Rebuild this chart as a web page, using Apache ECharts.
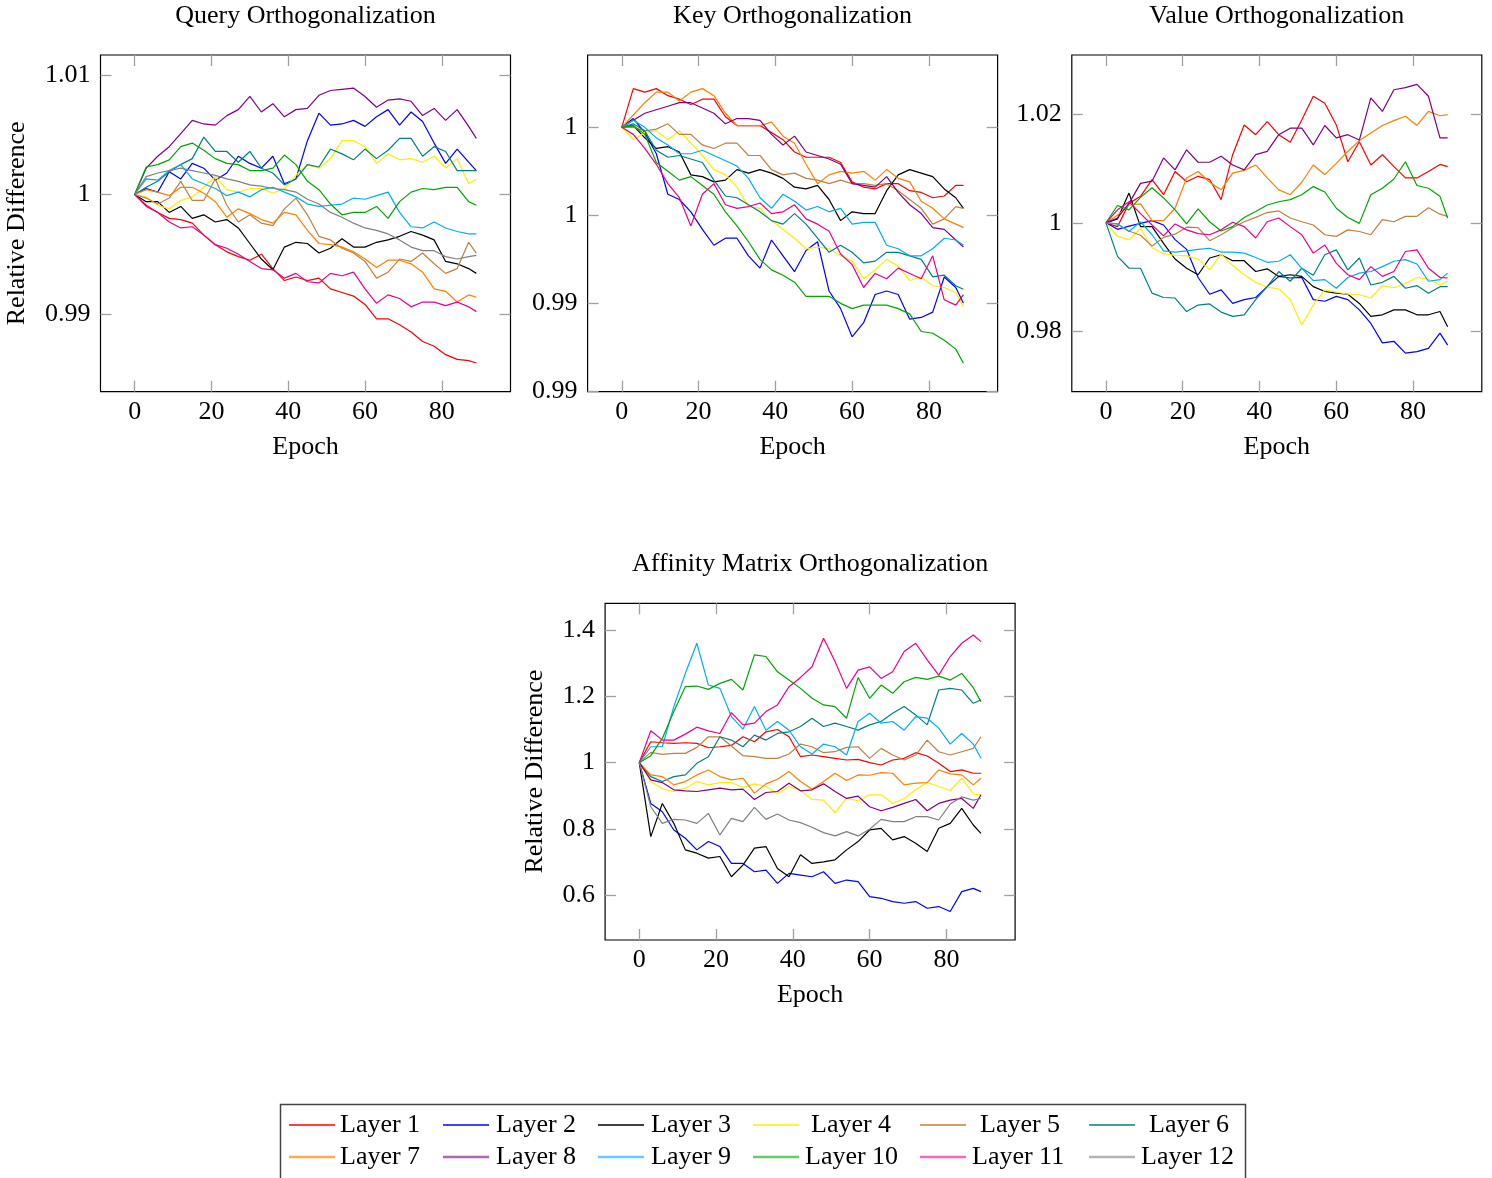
<!DOCTYPE html>
<html>
<head>
<meta charset="utf-8">
<script src="https://cdn.jsdelivr.net/npm/echarts@6/dist/echarts.min.js"></script>
<style>
html, body { margin: 0; background: #fff; }
#chart { width: 1492px; height: 1178px; }
</style>
</head>
<body>
<div id="chart"></div>
<script>
// sampled epochs (every 3rd epoch, plus the last one)
const epochs = [0, 3, 6, 9, 12, 15, 18, 21, 24, 27, 30, 33, 36, 39, 42, 45, 48, 51, 54, 57, 60, 63, 66, 69, 72, 75, 78, 81, 84, 87, 89]
const layerNames = ['Layer 1', 'Layer 2', 'Layer 3', 'Layer 4', 'Layer 5', 'Layer 6', 'Layer 7', 'Layer 8', 'Layer 9', 'Layer 10', 'Layer 11', 'Layer 12']
const xTicks = [0, 20, 40, 60, 80]

// Query orthogonalization
const query1 = [1.0000, 0.9991, 0.9985, 0.9980, 0.9979, 0.9976, 0.9966, 0.9958, 0.9952, 0.9948, 0.9945, 0.9950, 0.9938, 0.9928, 0.9931, 0.9928, 0.9930, 0.9921, 0.9918, 0.9915, 0.9908, 0.9896, 0.9896, 0.9891, 0.9885, 0.9877, 0.9873, 0.9866, 0.9862, 0.9861, 0.9859]
const query2 = [1.0000, 1.0005, 1.0002, 1.0019, 1.0013, 1.0026, 1.0022, 1.0012, 1.0018, 1.0032, 1.0026, 1.0022, 1.0032, 1.0009, 1.0013, 1.0045, 1.0068, 1.0058, 1.0059, 1.0062, 1.0057, 1.0065, 1.0071, 1.0058, 1.0069, 1.0061, 1.0043, 1.0026, 1.0038, 1.0027, 1.0020]
const query3 = [1.0000, 0.9994, 0.9994, 0.9985, 0.9990, 0.9980, 0.9983, 0.9977, 0.9979, 0.9972, 0.9959, 0.9946, 0.9937, 0.9956, 0.9960, 0.9959, 0.9951, 0.9955, 0.9963, 0.9956, 0.9956, 0.9960, 0.9962, 0.9965, 0.9969, 0.9966, 0.9962, 0.9944, 0.9942, 0.9938, 0.9934]
const query4 = [1.0000, 0.9998, 0.9991, 0.9988, 0.9995, 0.9998, 1.0006, 1.0015, 1.0004, 1.0002, 1.0005, 1.0005, 1.0001, 1.0005, 1.0016, 1.0025, 1.0022, 1.0030, 1.0045, 1.0045, 1.0040, 1.0026, 1.0034, 1.0029, 1.0030, 1.0027, 1.0032, 1.0022, 1.0030, 1.0009, 1.0013]
const query5 = [1.0000, 0.9997, 0.9992, 0.9997, 1.0011, 0.9995, 0.9995, 1.0013, 0.9991, 0.9977, 0.9983, 0.9976, 0.9974, 0.9988, 0.9997, 0.9983, 0.9965, 0.9962, 0.9955, 0.9951, 0.9944, 0.9930, 0.9935, 0.9946, 0.9944, 0.9951, 0.9942, 0.9934, 0.9938, 0.9960, 0.9951]
const query6 = [1.0000, 1.0006, 1.0011, 1.0019, 1.0025, 1.0030, 1.0048, 1.0036, 1.0036, 1.0027, 1.0036, 1.0022, 1.0018, 1.0008, 1.0013, 1.0025, 1.0023, 1.0038, 1.0034, 1.0029, 1.0038, 1.0030, 1.0037, 1.0047, 1.0047, 1.0032, 1.0040, 1.0036, 1.0020, 1.0020, 1.0020]
const query7 = [1.0000, 1.0004, 1.0002, 0.9999, 1.0006, 1.0006, 1.0001, 0.9994, 0.9981, 0.9988, 0.9984, 0.9979, 0.9976, 0.9985, 0.9983, 0.9970, 0.9959, 0.9958, 0.9956, 0.9952, 0.9946, 0.9939, 0.9945, 0.9945, 0.9942, 0.9935, 0.9921, 0.9919, 0.9910, 0.9916, 0.9914]
const query8 = [1.0000, 1.0022, 1.0032, 1.0040, 1.0051, 1.0062, 1.0059, 1.0058, 1.0066, 1.0071, 1.0082, 1.0069, 1.0076, 1.0065, 1.0071, 1.0072, 1.0083, 1.0087, 1.0088, 1.0089, 1.0082, 1.0073, 1.0079, 1.0080, 1.0078, 1.0066, 1.0072, 1.0062, 1.0071, 1.0057, 1.0047]
const query9 = [1.0000, 1.0013, 1.0012, 1.0020, 1.0025, 1.0013, 1.0009, 1.0005, 0.9999, 1.0002, 0.9998, 1.0004, 1.0006, 1.0002, 0.9998, 0.9992, 0.9990, 0.9991, 0.9992, 0.9997, 0.9996, 0.9999, 1.0002, 0.9985, 0.9973, 0.9972, 0.9977, 0.9972, 0.9969, 0.9967, 0.9967]
const query10 = [1.0000, 1.0023, 1.0025, 1.0029, 1.0040, 1.0043, 1.0037, 1.0030, 1.0026, 1.0025, 1.0020, 1.0020, 1.0022, 1.0033, 1.0025, 1.0011, 1.0004, 0.9992, 0.9983, 0.9985, 0.9985, 0.9990, 0.9980, 0.9994, 1.0002, 1.0005, 1.0004, 1.0006, 1.0006, 0.9994, 0.9991]
const query11 = [1.0000, 0.9990, 0.9985, 0.9977, 0.9972, 0.9973, 0.9966, 0.9958, 0.9955, 0.9950, 0.9944, 0.9938, 0.9937, 0.9930, 0.9934, 0.9927, 0.9926, 0.9934, 0.9932, 0.9935, 0.9921, 0.9909, 0.9916, 0.9913, 0.9906, 0.9910, 0.9910, 0.9907, 0.9910, 0.9906, 0.9902]
const query12 = [1.0000, 1.0015, 1.0018, 1.0020, 1.0022, 1.0020, 1.0018, 1.0016, 1.0013, 1.0011, 1.0008, 1.0007, 1.0005, 1.0004, 1.0002, 0.9996, 0.9992, 0.9985, 0.9981, 0.9976, 0.9972, 0.9970, 0.9967, 0.9962, 0.9956, 0.9953, 0.9953, 0.9948, 0.9946, 0.9948, 0.9949]

// Key orthogonalization
const key1 = [1.0000, 1.0022, 1.0020, 1.0022, 1.0018, 1.0016, 1.0013, 1.0016, 1.0016, 1.0006, 1.0001, 1.0001, 1.0001, 0.9997, 0.9993, 0.9986, 0.9983, 0.9983, 0.9983, 0.9980, 0.9969, 0.9966, 0.9965, 0.9968, 0.9968, 0.9964, 0.9963, 0.9960, 0.9961, 0.9967, 0.9967]
const key2 = [1.0000, 1.0005, 0.9997, 0.9985, 0.9962, 0.9959, 0.9952, 0.9942, 0.9933, 0.9937, 0.9937, 0.9927, 0.9920, 0.9936, 0.9927, 0.9918, 0.9930, 0.9935, 0.9907, 0.9897, 0.9881, 0.9889, 0.9905, 0.9907, 0.9905, 0.9891, 0.9892, 0.9895, 0.9915, 0.9909, 0.9900]
const key3 = [1.0000, 1.0001, 0.9994, 0.9988, 0.9989, 0.9986, 0.9973, 0.9972, 0.9969, 0.9970, 0.9976, 0.9974, 0.9976, 0.9974, 0.9971, 0.9966, 0.9965, 0.9967, 0.9959, 0.9947, 0.9952, 0.9951, 0.9951, 0.9964, 0.9973, 0.9976, 0.9974, 0.9972, 0.9965, 0.9960, 0.9954]
const key4 = [1.0000, 0.9993, 0.9997, 0.9998, 0.9993, 0.9998, 0.9991, 0.9984, 0.9976, 0.9973, 0.9966, 0.9955, 0.9954, 0.9947, 0.9942, 0.9937, 0.9931, 0.9932, 0.9931, 0.9927, 0.9924, 0.9914, 0.9919, 0.9925, 0.9921, 0.9913, 0.9915, 0.9910, 0.9909, 0.9906, 0.9898]
const key5 = [1.0000, 1.0000, 0.9998, 0.9999, 1.0002, 0.9996, 0.9996, 0.9990, 0.9988, 0.9991, 0.9991, 0.9984, 0.9984, 0.9976, 0.9973, 0.9974, 0.9971, 0.9970, 0.9968, 0.9970, 0.9968, 0.9968, 0.9967, 0.9968, 0.9964, 0.9959, 0.9954, 0.9945, 0.9948, 0.9955, 0.9954]
const key6 = [1.0000, 1.0002, 0.9998, 0.9987, 0.9983, 0.9984, 0.9982, 0.9980, 0.9970, 0.9961, 0.9960, 0.9956, 0.9952, 0.9947, 0.9945, 0.9951, 0.9945, 0.9937, 0.9929, 0.9933, 0.9929, 0.9923, 0.9924, 0.9929, 0.9929, 0.9927, 0.9925, 0.9915, 0.9916, 0.9910, 0.9908]
const key7 = [1.0000, 1.0007, 1.0014, 1.0020, 1.0020, 1.0015, 1.0020, 1.0022, 1.0018, 1.0008, 1.0001, 1.0001, 1.0001, 1.0003, 0.9995, 0.9991, 0.9979, 0.9968, 0.9973, 0.9975, 0.9974, 0.9975, 0.9970, 0.9976, 0.9971, 0.9969, 0.9958, 0.9954, 0.9948, 0.9945, 0.9943]
const key8 = [1.0000, 1.0004, 1.0008, 1.0010, 1.0012, 1.0014, 1.0014, 1.0011, 1.0008, 1.0002, 1.0005, 1.0005, 1.0004, 0.9996, 0.9990, 0.9995, 0.9986, 0.9984, 0.9982, 0.9979, 0.9968, 0.9967, 0.9966, 0.9972, 0.9963, 0.9956, 0.9951, 0.9943, 0.9942, 0.9936, 0.9932]
const key9 = [1.0000, 1.0004, 1.0000, 0.9994, 0.9990, 0.9985, 0.9985, 0.9987, 0.9984, 0.9981, 0.9978, 0.9971, 0.9960, 0.9954, 0.9962, 0.9958, 0.9953, 0.9955, 0.9952, 0.9954, 0.9945, 0.9946, 0.9946, 0.9933, 0.9931, 0.9927, 0.9927, 0.9931, 0.9937, 0.9936, 0.9933]
const key10 = [1.0000, 1.0001, 0.9996, 0.9980, 0.9975, 0.9970, 0.9972, 0.9967, 0.9962, 0.9952, 0.9944, 0.9935, 0.9925, 0.9919, 0.9916, 0.9912, 0.9904, 0.9904, 0.9904, 0.9900, 0.9897, 0.9899, 0.9899, 0.9899, 0.9897, 0.9894, 0.9884, 0.9883, 0.9879, 0.9874, 0.9866]
const key11 = [1.0000, 0.9996, 0.9988, 0.9979, 0.9968, 0.9960, 0.9944, 0.9962, 0.9968, 0.9956, 0.9954, 0.9955, 0.9957, 0.9951, 0.9952, 0.9956, 0.9948, 0.9945, 0.9941, 0.9928, 0.9922, 0.9909, 0.9917, 0.9914, 0.9920, 0.9917, 0.9914, 0.9927, 0.9902, 0.9899, 0.9905]
const key12 = []

// Value orthogonalization
const value1 = [1.0000, 0.9993, 1.0036, 1.0049, 1.0080, 1.0052, 1.0095, 1.0076, 1.0086, 1.0080, 1.0043, 1.0126, 1.0181, 1.0163, 1.0187, 1.0163, 1.0149, 1.0190, 1.0234, 1.0221, 1.0181, 1.0113, 1.0150, 1.0107, 1.0126, 1.0104, 1.0083, 1.0083, 1.0095, 1.0108, 1.0104]
const value2 = [1.0000, 0.9988, 0.9994, 0.9999, 1.0004, 0.9996, 0.9969, 0.9951, 0.9899, 0.9868, 0.9876, 0.9851, 0.9858, 0.9862, 0.9882, 0.9901, 0.9898, 0.9899, 0.9858, 0.9855, 0.9864, 0.9858, 0.9839, 0.9814, 0.9778, 0.9781, 0.9759, 0.9762, 0.9768, 0.9796, 0.9774]
const value3 = [1.0000, 1.0007, 1.0055, 0.9993, 0.9993, 0.9962, 0.9933, 0.9916, 0.9904, 0.9935, 0.9941, 0.9930, 0.9930, 0.9910, 0.9915, 0.9901, 0.9904, 0.9901, 0.9882, 0.9873, 0.9870, 0.9868, 0.9851, 0.9827, 0.9830, 0.9839, 0.9839, 0.9830, 0.9830, 0.9836, 0.9808]
const value4 = [1.0000, 0.9975, 0.9969, 0.9990, 0.9954, 0.9943, 0.9940, 0.9939, 0.9933, 0.9913, 0.9942, 0.9921, 0.9904, 0.9890, 0.9881, 0.9878, 0.9858, 0.9811, 0.9848, 0.9876, 0.9872, 0.9868, 0.9867, 0.9861, 0.9884, 0.9880, 0.9888, 0.9899, 0.9896, 0.9885, 0.9892]
const value5 = [1.0000, 0.9998, 0.9985, 0.9977, 0.9957, 0.9973, 0.9979, 0.9992, 0.9991, 0.9967, 0.9978, 0.9991, 1.0002, 1.0010, 1.0019, 1.0022, 1.0009, 1.0002, 0.9996, 0.9978, 0.9975, 0.9987, 0.9984, 0.9978, 1.0006, 1.0002, 1.0012, 1.0012, 1.0028, 1.0016, 1.0012]
const value6 = [1.0000, 0.9938, 0.9916, 0.9916, 0.9870, 0.9862, 0.9861, 0.9836, 0.9848, 0.9850, 0.9835, 0.9827, 0.9830, 0.9858, 0.9882, 0.9910, 0.9892, 0.9916, 0.9903, 0.9941, 0.9950, 0.9913, 0.9935, 0.9885, 0.9890, 0.9901, 0.9879, 0.9884, 0.9870, 0.9882, 0.9882]
const value7 = [1.0000, 1.0014, 1.0033, 1.0035, 1.0004, 1.0004, 1.0027, 1.0083, 1.0095, 1.0075, 1.0061, 1.0092, 1.0097, 1.0107, 1.0083, 1.0061, 1.0052, 1.0075, 1.0107, 1.0089, 1.0110, 1.0132, 1.0152, 1.0166, 1.0180, 1.0189, 1.0197, 1.0180, 1.0206, 1.0198, 1.0200]
const value8 = [1.0000, 1.0009, 1.0036, 1.0073, 1.0077, 1.0120, 1.0098, 1.0135, 1.0112, 1.0112, 1.0123, 1.0107, 1.0098, 1.0126, 1.0132, 1.0163, 1.0175, 1.0175, 1.0144, 1.0180, 1.0157, 1.0163, 1.0153, 1.0231, 1.0206, 1.0246, 1.0250, 1.0256, 1.0234, 1.0157, 1.0157]
const value9 = [1.0000, 0.9998, 0.9984, 1.0002, 0.9978, 0.9948, 0.9946, 0.9948, 0.9951, 0.9953, 0.9946, 0.9946, 0.9944, 0.9936, 0.9927, 0.9929, 0.9941, 0.9916, 0.9893, 0.9895, 0.9879, 0.9899, 0.9907, 0.9910, 0.9919, 0.9929, 0.9932, 0.9924, 0.9892, 0.9895, 0.9907]
const value10 = [1.0000, 1.0032, 1.0024, 1.0047, 1.0065, 1.0046, 1.0024, 0.9998, 1.0026, 1.0002, 0.9985, 0.9993, 1.0010, 1.0021, 1.0033, 1.0039, 1.0043, 1.0052, 1.0067, 1.0057, 1.0027, 1.0010, 0.9999, 1.0052, 1.0064, 1.0081, 1.0113, 1.0069, 1.0064, 1.0049, 1.0009]
const value11 = [1.0000, 1.0024, 1.0039, 1.0017, 0.9996, 0.9976, 0.9998, 0.9987, 0.9980, 0.9978, 0.9987, 1.0001, 0.9993, 0.9972, 1.0002, 1.0009, 0.9993, 0.9978, 0.9944, 0.9959, 0.9925, 0.9904, 0.9895, 0.9919, 0.9901, 0.9910, 0.9947, 0.9950, 0.9916, 0.9899, 0.9898]
const value12 = []

// Affinity matrix orthogonalization
const affinity1 = [1.000, 1.063, 1.060, 1.058, 1.060, 1.058, 1.045, 1.048, 1.052, 1.078, 1.063, 1.093, 1.100, 1.078, 1.018, 1.023, 1.018, 1.013, 1.008, 1.010, 1.000, 0.993, 1.008, 1.013, 1.030, 1.020, 0.998, 0.973, 0.978, 0.968, 0.968]
const affinity2 = [1.000, 0.877, 0.852, 0.797, 0.772, 0.737, 0.762, 0.747, 0.696, 0.696, 0.671, 0.676, 0.636, 0.666, 0.661, 0.656, 0.671, 0.636, 0.646, 0.641, 0.596, 0.591, 0.581, 0.576, 0.581, 0.561, 0.566, 0.551, 0.611, 0.621, 0.611]
const affinity3 = [1.000, 0.777, 0.877, 0.817, 0.737, 0.727, 0.712, 0.717, 0.656, 0.691, 0.742, 0.747, 0.681, 0.656, 0.722, 0.696, 0.701, 0.707, 0.737, 0.762, 0.797, 0.802, 0.767, 0.777, 0.757, 0.732, 0.802, 0.817, 0.862, 0.812, 0.787]
const affinity4 = [1.000, 0.943, 0.921, 0.913, 0.923, 0.943, 0.933, 0.940, 0.940, 0.925, 0.936, 0.928, 0.906, 0.928, 0.916, 0.889, 0.887, 0.849, 0.892, 0.885, 0.903, 0.903, 0.877, 0.892, 0.918, 0.940, 0.928, 0.916, 0.953, 0.906, 0.903]
const affinity5 = [1.000, 1.031, 1.025, 1.028, 1.028, 1.046, 1.078, 1.078, 1.050, 1.021, 1.018, 1.013, 1.013, 1.026, 1.056, 1.048, 1.030, 1.033, 1.046, 1.048, 1.013, 1.043, 1.023, 1.008, 1.023, 1.068, 1.033, 1.023, 1.033, 1.043, 1.078]
const affinity6 = [1.000, 0.958, 0.943, 0.958, 0.963, 0.998, 1.018, 1.078, 1.068, 1.048, 1.083, 1.068, 1.088, 1.093, 1.109, 1.134, 1.109, 1.119, 1.109, 1.098, 1.114, 1.124, 1.149, 1.169, 1.144, 1.114, 1.219, 1.224, 1.219, 1.179, 1.189]
const affinity7 = [1.000, 0.963, 0.958, 0.933, 0.943, 0.963, 0.978, 0.958, 0.948, 0.953, 0.908, 0.936, 0.950, 0.973, 0.943, 0.920, 0.943, 0.968, 0.946, 0.963, 0.962, 0.970, 0.968, 0.933, 0.938, 0.940, 0.978, 0.966, 0.963, 0.933, 0.953]
const affinity8 = [1.000, 0.948, 0.940, 0.918, 0.915, 0.913, 0.918, 0.923, 0.918, 0.920, 0.889, 0.910, 0.913, 0.938, 0.915, 0.918, 0.936, 0.913, 0.892, 0.899, 0.867, 0.855, 0.865, 0.877, 0.889, 0.855, 0.877, 0.887, 0.892, 0.862, 0.903]
const affinity9 = [1.000, 1.048, 1.048, 1.169, 1.269, 1.360, 1.234, 1.224, 1.139, 1.101, 1.169, 1.098, 1.124, 1.098, 1.048, 1.026, 1.056, 1.048, 1.023, 1.124, 1.149, 1.119, 1.124, 1.098, 1.139, 1.134, 1.104, 1.056, 1.088, 1.056, 1.013]
const affinity10 = [1.000, 1.021, 1.073, 1.154, 1.229, 1.231, 1.221, 1.239, 1.251, 1.219, 1.325, 1.320, 1.274, 1.249, 1.224, 1.194, 1.174, 1.169, 1.134, 1.257, 1.194, 1.234, 1.209, 1.244, 1.257, 1.251, 1.261, 1.249, 1.269, 1.226, 1.184]
const affinity11 = [1.000, 1.096, 1.068, 1.068, 1.086, 1.107, 1.096, 1.088, 1.151, 1.114, 1.119, 1.154, 1.174, 1.229, 1.257, 1.289, 1.375, 1.305, 1.224, 1.279, 1.289, 1.254, 1.274, 1.335, 1.360, 1.310, 1.264, 1.320, 1.360, 1.385, 1.365]
const affinity12 = [1.000, 0.867, 0.817, 0.829, 0.827, 0.817, 0.847, 0.782, 0.832, 0.822, 0.865, 0.829, 0.845, 0.827, 0.819, 0.805, 0.789, 0.779, 0.792, 0.779, 0.799, 0.829, 0.822, 0.822, 0.837, 0.837, 0.827, 0.875, 0.897, 0.887, 0.892]

// y tick values and the labels printed for them
const queryTicks = [0.99, 1, 1.01]
const queryTickLabels = ['0.99', '1', '1.01']
const keyTicks = [0.985, 0.99, 0.995, 1]
const keyTickLabels = ['0.99', '0.99', '1', '1']
const valueTicks = [0.98, 1, 1.02]
const valueTickLabels = ['0.98', '1', '1.02']
const affinityTicks = [0.6, 0.8, 1, 1.2, 1.4]
const affinityTickLabels = ['0.6', '0.8', '1', '1.2', '1.4']

const lineColors = ['#ff0000', '#0000ff', '#000000', '#ffee00', '#bf8040', '#008080', '#ff8000', '#800080', '#00aeef', '#00a600', '#ec008c', '#808080']
const legendColors = ['#ff0000', '#0000ff', '#000000', '#ffee00', '#bf8040', '#008080', '#ffaa55', '#b266b2', '#66ccff', '#66cc66', '#ff66bb', '#b3b3b3']

const FONT = '"Liberation Serif", "DejaVu Serif", serif'

const panels = [
  { title: 'Query Orthogonalization', left: 100.5, top: 55, min: 0.9835, max: 1.01167, ticks: queryTicks, labels: queryTickLabels, yName: 'Relative Difference', yNameGap: 70,
    data: [query1, query2, query3, query4, query5, query6, query7, query8, query9, query10, query11, query12] },
  { title: 'Key Orthogonalization', left: 587.6, top: 55, min: 0.98498, max: 1.00411, ticks: keyTicks, labels: keyTickLabels, yName: '', yNameGap: 0,
    data: [key1, key2, key3, key4, key5, key6, key7, key8, key9, key10, key11, key12] },
  { title: 'Value Orthogonalization', left: 1071.8, top: 55, min: 0.96878, max: 1.03103, ticks: valueTicks, labels: valueTickLabels, yName: '', yNameGap: 0,
    data: [value1, value2, value3, value4, value5, value6, value7, value8, value9, value10, value11, value12] },
  { title: 'Affinity Matrix Orthogonalization', left: 605.1, top: 603.3, min: 0.4652, max: 1.4805, ticks: affinityTicks, labels: affinityTickLabels, yName: 'Relative Difference', yNameGap: 57,
    data: [affinity1, affinity2, affinity3, affinity4, affinity5, affinity6, affinity7, affinity8, affinity9, affinity10, affinity11, affinity12] }
]

const GRID_W = 410
const GRID_H = 336.7

const tickStyle = { color: '#a0a0a0', width: 1.3 }

const grid = []
const xAxis = []
const yAxis = []
const series = []
const graphic = []

panels.forEach((p, i) => {
  grid.push({ left: p.left, top: p.top, width: GRID_W, height: GRID_H, show: true, borderColor: '#000', borderWidth: 1.2, backgroundColor: 'transparent' })
  const xBase = {
    type: 'value', gridIndex: i, min: -8.9, max: 97.9,
    axisLine: { show: false, onZero: false }, splitLine: { show: false }
  }
  xAxis.push(Object.assign({}, xBase, {
    position: 'bottom',
    name: 'Epoch', nameLocation: 'middle', nameGap: 42,
    nameTextStyle: { fontFamily: FONT, fontSize: 26, color: '#000' },
    axisTick: { inside: true, length: 11, lineStyle: tickStyle, customValues: xTicks },
    axisLabel: { fontFamily: FONT, fontSize: 26, color: '#000', margin: 7, customValues: xTicks }
  }))
  xAxis.push(Object.assign({}, xBase, {
    position: 'top',
    axisTick: { inside: true, length: 11, lineStyle: tickStyle, customValues: xTicks },
    axisLabel: { show: false }
  }))
  const yBase = {
    type: 'value', gridIndex: i, min: p.min, max: p.max,
    axisLine: { show: false, onZero: false }, splitLine: { show: false }
  }
  yAxis.push(Object.assign({}, yBase, {
    position: 'left',
    name: p.yName, nameLocation: 'middle', nameGap: p.yNameGap,
    nameTextStyle: { fontFamily: FONT, fontSize: 26, color: '#000' },
    axisTick: { inside: true, length: 11, lineStyle: tickStyle, customValues: p.ticks },
    axisLabel: {
      fontFamily: FONT, fontSize: 26, color: '#000', margin: 10, customValues: p.ticks,
      formatter: v => {
        const k = p.ticks.findIndex(t => Math.abs(t - v) < 1e-9)
        return k >= 0 ? p.labels[k] : ''
      }
    }
  }))
  yAxis.push(Object.assign({}, yBase, {
    position: 'right',
    axisTick: { inside: true, length: 11, lineStyle: tickStyle, customValues: p.ticks },
    axisLabel: { show: false }
  }))
  p.data.forEach((vals, k) => {
    series.push({
      type: 'line',
      name: layerNames[k],
      xAxisIndex: 2 * i,
      yAxisIndex: 2 * i,
      data: vals.map((v, j) => [epochs[j], v]),
      showSymbol: false,
      symbol: 'none',
      lineStyle: { width: 1.2, color: lineColors[k] },
      itemStyle: { color: lineColors[k] },
      animation: false
    })
  })
  graphic.push({
    type: 'text',
    x: p.left + GRID_W / 2,
    y: p.top - 39,
    style: { text: p.title, font: '26px ' + FONT, fill: '#000', textAlign: 'center', textVerticalAlign: 'middle' }
  })
})

// legend box
graphic.push({
  type: 'rect',
  shape: { x: 280.5, y: 1104.5, width: 965, height: 100 },
  style: { fill: 'none', stroke: '#444', lineWidth: 1.5 }
})

// one legend per entry, laid out like a 6-column table
const legendCols = [289, 443, 598, 753, 920, 1089]
const legendPads = [0, 2, 2, 7, 9, 9, 0, 2, 2, 1, 1, 1]
const legend = layerNames.map((name, k) => ({
  data: [{ name: name, itemStyle: { color: legendColors[k] } }],
  left: legendCols[k % 6],
  top: k < 6 ? 1112 : 1144,
  icon: 'rect',
  itemWidth: 46,
  itemHeight: k < 6 ? 1.4 : 2.6,
  padding: 0,
  selectedMode: false,
  textStyle: { fontFamily: FONT, fontSize: 26, color: '#000', padding: [0, 0, 0, legendPads[k]] }
}))

const chart = echarts.init(document.getElementById('chart'), null, { renderer: 'canvas' })
chart.setOption({
  animation: false,
  backgroundColor: '#fff',
  grid: grid,
  xAxis: xAxis,
  yAxis: yAxis,
  legend: legend,
  graphic: graphic,
  series: series
})
</script>
</body>
</html>
